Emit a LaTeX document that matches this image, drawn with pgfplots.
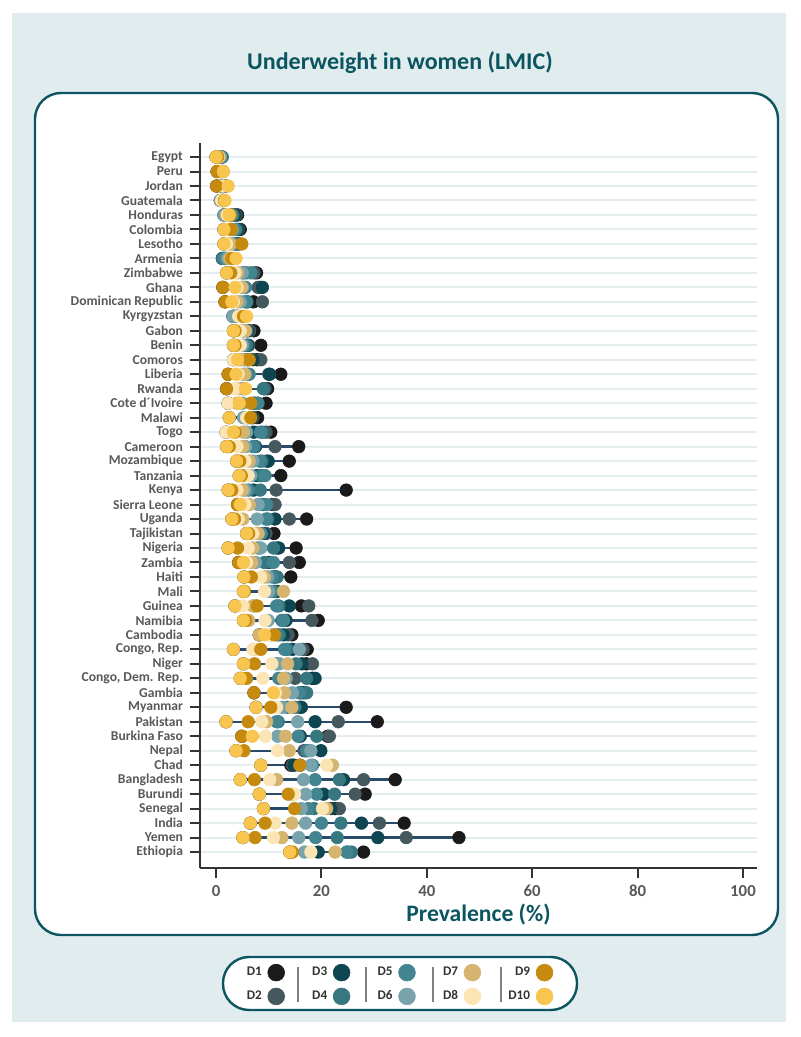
\documentclass[border=0pt]{standalone}
\usepackage{pgfplots}
\usepackage{pgfplotstable}
\pgfplotsset{compat=1.18}
\usepackage{fontspec}
\setmainfont{Carlito}
\definecolor{c1}{HTML}{1A1A1A}
\definecolor{c2}{HTML}{44585D}
\definecolor{c3}{HTML}{0D4650}
\definecolor{c4}{HTML}{367780}
\definecolor{c5}{HTML}{428591}
\definecolor{c6}{HTML}{78A3AC}
\definecolor{c7}{HTML}{D4B46E}
\definecolor{c8}{HTML}{FBE5B4}
\definecolor{c9}{HTML}{C58A0E}
\definecolor{c10}{HTML}{F8C54E}
\definecolor{linec}{HTML}{284B6B}
\definecolor{gridc}{HTML}{E4EDF0}
\definecolor{bgc}{HTML}{E1ECEE}
\definecolor{panelc}{HTML}{0C5560}
\definecolor{titlec}{HTML}{0B5560}
\definecolor{labc}{HTML}{595959}
\definecolor{axisc}{HTML}{333333}
\definecolor{sepc}{HTML}{808080}

\pgfplotstableread[col sep=semicolon]{
y;name;d1;d2;d3;d4;d5;d6;d7;d8;d9;d10
49;Egypt;1.0;1.0;1.1;1.2;0.9;0.8;0.6;0.4;0.3;0.0
48;Peru;1.2;1.0;1.3;0.9;1.1;0.8;0.6;1.0;0.2;1.4
47;Jordan;1.8;1.5;1.2;1.6;1.0;0.9;0.7;1.4;0.1;2.3
46;Guatemala;1.5;1.3;1.4;1.2;1.0;0.8;1.0;1.1;1.6;1.7
45;Honduras;4.1;3.8;3.6;3.2;2.9;1.5;2.0;2.2;2.7;2.5
44;Colombia;4.6;4.3;4.2;3.8;3.6;3.1;2.6;2.2;2.9;1.5
43;Lesotho;4.4;4.0;3.9;3.4;3.6;2.6;2.8;2.0;4.9;1.5
42;Armenia;2.0;1.8;1.5;1.2;1.6;2.2;2.6;3.3;3.0;3.8
41;Zimbabwe;7.7;7.2;5.2;5.8;6.6;5.0;4.1;3.6;2.8;2.0
40;Ghana;8.4;8.0;8.8;5.3;5.6;5.0;4.9;4.0;1.3;3.6
39;Dominican Republic;7.1;8.8;6.0;5.5;5.8;4.6;4.0;3.3;1.7;3.0
38;Kyrgyzstan;4.2;4.0;3.8;3.5;3.4;3.2;4.6;4.3;5.2;5.8
37;Gabon;7.2;6.4;6.0;5.8;5.3;5.0;5.6;4.6;3.6;3.3
36;Benin;8.5;6.2;6.0;5.8;5.2;5.0;4.4;4.6;3.6;3.3
35;Comoros;7.8;8.5;7.0;6.0;5.5;4.6;5.0;3.3;6.3;4.1
34;Liberia;12.3;10.0;10.2;6.0;6.3;5.2;5.5;4.2;2.3;3.8
33;Rwanda;9.8;9.3;9.1;9.0;5.4;5.0;4.2;3.6;2.0;5.6
32;Cote d´Ivoire;9.5;8.0;7.2;7.5;7.9;5.0;4.0;2.3;6.6;4.4
31;Malawi;7.9;7.0;6.8;6.0;5.5;5.2;6.2;5.8;6.6;2.5
30;Togo;10.4;9.5;7.2;8.8;8.4;5.8;5.2;1.9;3.6;3.3
29;Cameroon;15.7;11.2;7.5;7.3;7.0;5.6;5.1;4.0;2.5;2.0
28;Mozambique;13.9;9.6;9.9;8.7;8.3;7.0;6.3;5.5;4.5;3.9
27;Tanzania;12.3;9.0;7.8;8.5;9.3;6.6;5.5;6.1;4.8;4.4
26;Kenya;24.7;11.4;7.1;8.4;6.2;5.5;5.0;4.0;3.0;2.3
25;Sierra Leone;10.8;11.2;9.0;8.5;9.6;8.0;6.3;5.5;4.1;4.6
24;Uganda;17.2;13.9;11.2;9.8;9.5;7.8;5.1;4.2;3.5;3.0
23;Tajikistan;11.0;9.5;9.0;8.2;8.6;7.5;8.0;7.0;6.2;5.8
22;Nigeria;15.2;11.5;11.9;10.9;8.0;8.5;7.0;6.1;4.1;2.3
21;Zambia;15.8;13.9;10.0;9.2;10.9;7.5;6.8;5.8;4.3;5.2
20;Haiti;14.2;11.3;11.0;11.6;10.6;9.8;9.2;8.5;6.7;5.3
19;Mali;11.5;11.0;11.3;10.9;10.5;10.0;12.8;9.2;5.4;5.2
18;Guinea;16.2;17.6;13.9;11.9;11.5;7.3;7.0;5.1;7.8;3.6
17;Namibia;19.4;18.2;13.3;12.5;12.8;9.9;6.2;9.3;5.6;5.2
16;Cambodia;14.4;13.7;12.8;12.0;11.5;10.5;8.2;10.0;11.1;9.2
15;Congo, Rep.;17.3;16.5;14.5;13.5;13.0;15.8;7.2;7.0;8.5;3.3
14;Niger;17.1;18.3;16.3;15.2;11.5;12.0;13.6;10.6;7.3;5.2
13;Congo, Dem. Rep.;18.3;15.0;18.8;17.2;11.9;13.3;12.8;8.9;5.8;4.6
12;Gambia;16.0;16.8;16.5;17.2;15.8;14.5;13.0;11.3;7.2;10.9
11;Myanmar;24.7;15.8;16.2;15.0;13.5;12.6;14.4;11.5;10.4;7.6
10;Pakistan;30.6;23.2;18.8;11.8;11.5;15.5;9.6;8.7;6.1;1.9
9;Burkina Faso;21.2;21.5;16.0;19.1;15.6;11.7;13.2;9.4;4.9;6.9
8;Nepal;17.0;16.7;19.9;17.5;17.2;18.0;13.9;11.7;5.3;3.8
7;Chad;14.2;14.5;14.8;16.0;18.3;18.0;22.1;21.0;15.9;8.5
6;Bangladesh;34.0;28.0;24.2;23.4;18.8;16.6;11.5;10.2;7.3;4.6
5;Burundi;28.3;26.4;20.4;22.5;19.1;17.0;14.5;14.9;13.7;8.2
4;Senegal;22.6;23.4;21.8;18.6;17.5;16.2;21.0;20.2;14.9;9.0
3;India;35.7;31.0;27.6;23.7;20.0;17.0;14.4;11.2;9.3;6.5
2;Yemen;46.1;36.1;30.7;23.0;18.9;15.7;12.5;10.9;7.4;5.1
1;Ethiopia;28.0;25.0;19.4;25.7;24.8;16.8;22.6;18.0;14.5;14.0
}\data

\begin{document}
\begin{tikzpicture}
\fill[white] (-100pt,-84.5pt) rectangle (300pt,434pt);
\fill[bgc] (-94pt,-77pt) rectangle (293pt,427.5pt);
\draw[panelc, line width=1.2pt, fill=white, rounded corners=13pt] (-82.5pt,-33.5pt) rectangle (289pt,387.5pt);
\node[font=\fontsize{12}{14}\selectfont\bfseries, text=titlec] at (100pt,402.5pt) {Underweight in women (LMIC)};
\draw[panelc, line width=1.2pt, fill=white, rounded corners=13pt] (11.5pt,-71pt) rectangle (188.5pt,-44.5pt);
\begin{axis}[
  at={(0pt,0pt)}, anchor=south west,
  width=278.5pt, height=362.5pt, scale only axis,
  xmin=-3.04, xmax=102.66, ymin=-0.1, ymax=49.97,
  axis x line=bottom, axis y line=left,
  axis line style={-, draw=axisc, line width=1pt},
  xtick={0,20,...,100},
  ytick={1,...,49},
  yticklabels={Ethiopia,Yemen,India,Senegal,Burundi,Bangladesh,Chad,Nepal,Burkina Faso,Pakistan,Myanmar,Gambia,{Congo, Dem. Rep.},Niger,{Congo, Rep.},Cambodia,Namibia,Guinea,Mali,Haiti,Zambia,Nigeria,Tajikistan,Uganda,Sierra Leone,Kenya,Tanzania,Mozambique,Cameroon,Togo,Malawi,Cote d´Ivoire,Rwanda,Liberia,Comoros,Benin,Gabon,Kyrgyzstan,Dominican Republic,Ghana,Zimbabwe,Armenia,Lesotho,Colombia,Honduras,Guatemala,Jordan,Peru,Egypt},
  tick align=outside, major tick length=5pt,
  tick style={draw=axisc, line width=1pt},
  ymajorgrids, grid style={draw=gridc, line width=1pt},
  /pgf/number format/assume math mode=true,
  xticklabel style={font=\fontsize{8.4}{10}\selectfont\bfseries, text=labc},
  yticklabel style={font=\fontsize{6.8}{8}\selectfont\bfseries, text=labc},
  xlabel={Prevalence (\%)},
  xlabel style={font=\fontsize{11.8}{14}\selectfont\bfseries, text=titlec, at={(axis description cs:0.5,-0.0648)}, anchor=center},
  legend columns=2, transpose legend,
  legend plot pos=right, legend cell align=right,
  legend image code/.code={\draw[#1, mark size=4.2pt] plot coordinates {(4.5pt,0pt)};},
  legend style={at={(axis description cs:0.357,-0.1607)}, anchor=center, draw=none, fill=none, inner sep=0pt,
    row sep=3.5pt, column sep=0pt,
    /tikz/every odd column/.style={column sep=2pt},
    /tikz/every even column/.style={column sep=12.8pt},
    nodes={inner sep=1pt, font=\fontsize{6.6}{8}\selectfont\bfseries, text=axisc}},
  every axis plot/.append style={only marks, mark=*, mark size=3.15pt, mark options={line width=0.3pt}},
]
\addplot[draw=none, mark=none, forget plot, error bars/.cd, x dir=plus, x explicit, error mark=none,
  error bar style={draw=linec, solid, line width=1.2pt}]
  table[x expr={min(\thisrow{d1},\thisrow{d2},\thisrow{d3},\thisrow{d4},\thisrow{d5},\thisrow{d6},\thisrow{d7},\thisrow{d8},\thisrow{d9},\thisrow{d10})}, y=y,
  x error plus expr={max(\thisrow{d1},\thisrow{d2},\thisrow{d3},\thisrow{d4},\thisrow{d5},\thisrow{d6},\thisrow{d7},\thisrow{d8},\thisrow{d9},\thisrow{d10})-min(\thisrow{d1},\thisrow{d2},\thisrow{d3},\thisrow{d4},\thisrow{d5},\thisrow{d6},\thisrow{d7},\thisrow{d8},\thisrow{d9},\thisrow{d10})}] {\data};
\addplot[color=c1] table[x=d1, y=y] {\data}; \addlegendentry{D1}
\addplot[color=c2] table[x=d2, y=y] {\data}; \addlegendentry{D2}
\addplot[color=c3] table[x=d3, y=y] {\data}; \addlegendentry{D3}
\addplot[color=c4] table[x=d4, y=y] {\data}; \addlegendentry{D4}
\addplot[color=c5] table[x=d5, y=y] {\data}; \addlegendentry{D5}
\addplot[color=c6] table[x=d6, y=y] {\data}; \addlegendentry{D6}
\addplot[color=c7] table[x=d7, y=y] {\data}; \addlegendentry{D7}
\addplot[color=c8] table[x=d8, y=y] {\data}; \addlegendentry{D8}
\addplot[color=c9] table[x=d9, y=y] {\data}; \addlegendentry{D9}
\addplot[color=c10] table[x=d10, y=y] {\data}; \addlegendentry{D10}
\end{axis}
\foreach \sx in {49,83,116.5,150.5} {\draw[sepc, line width=0.8pt] (\sx pt,-49.5pt) -- (\sx pt,-67pt);}
\end{tikzpicture}
\end{document}
